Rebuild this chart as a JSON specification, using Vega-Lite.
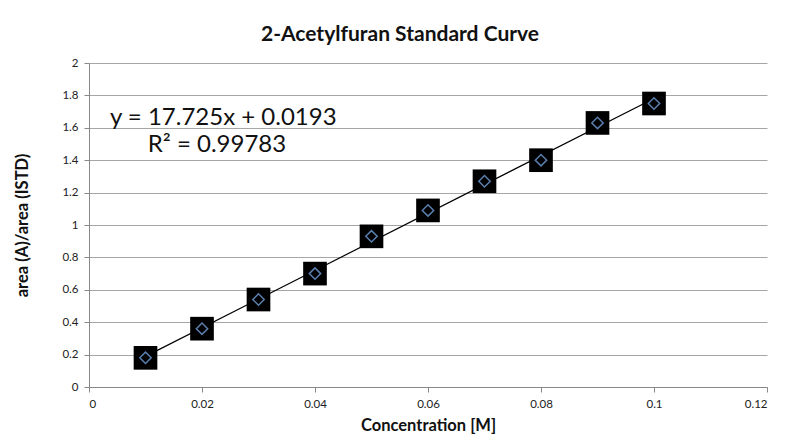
{
  "$schema": "https://vega.github.io/schema/vega-lite/v6.json",
  "autosize": "none",
  "width": 678,
  "height": 324,
  "padding": {"left": 89, "top": 63, "right": 25, "bottom": 57},
  "background": "white",
  "title": {
    "text": "2-Acetylfuran Standard Curve",
    "font": "Lato",
    "fontSize": 21,
    "fontWeight": "bold",
    "color": "#111111",
    "anchor": "middle",
    "dx": -28,
    "offset": 12
  },
  "config": {
    "view": {"stroke": null},
    "font": "Lato"
  },
  "datasets": {
    "points": [
      {"conc": 0.01, "ratio": 0.18},
      {"conc": 0.02, "ratio": 0.36},
      {"conc": 0.03, "ratio": 0.54},
      {"conc": 0.04, "ratio": 0.70},
      {"conc": 0.05, "ratio": 0.93},
      {"conc": 0.06, "ratio": 1.09},
      {"conc": 0.07, "ratio": 1.27},
      {"conc": 0.08, "ratio": 1.40},
      {"conc": 0.09, "ratio": 1.63},
      {"conc": 0.10, "ratio": 1.75}
    ],
    "labels": [
      {"conc": 0.0037, "ratio": 1.66, "label": "y = 17.725x + 0.0193"},
      {"conc": 0.0104, "ratio": 1.495, "label": "R² = 0.99783"}
    ]
  },
  "encoding": {
    "x": {
      "field": "conc",
      "type": "quantitative",
      "scale": {"domain": [0, 0.12], "nice": false, "zero": true},
      "axis": {
        "title": "Concentration [M]",
        "values": [0, 0.02, 0.04, 0.06, 0.08, 0.1, 0.12],
        "format": ".2~f",
        "grid": false,
        "domainColor": "#888888",
        "tickColor": "#888888",
        "tickSize": 5,
        "labelFontSize": 11.5,
        "labelColor": "#222222",
        "labelPadding": 6,
        "titleFontSize": 16.5,
        "titleFontWeight": "bold",
        "titleColor": "#111111",
        "titlePadding": 8
      }
    },
    "y": {
      "field": "ratio",
      "type": "quantitative",
      "scale": {"domain": [0, 2], "nice": false},
      "axis": {
        "title": "area (A)/area (ISTD)",
        "values": [0, 0.2, 0.4, 0.6, 0.8, 1, 1.2, 1.4, 1.6, 1.8, 2],
        "format": ".1~f",
        "grid": true,
        "gridColor": "#a6a6a6",
        "gridWidth": 1.2,
        "domainColor": "#888888",
        "tickColor": "#888888",
        "tickSize": 5,
        "labelFontSize": 11.5,
        "labelColor": "#222222",
        "labelPadding": 6,
        "titleFontSize": 16.5,
        "titleFontWeight": "bold",
        "titleColor": "#111111",
        "titlePadding": 31
      }
    }
  },
  "layer": [
    {
      "data": {"name": "points"},
      "transform": [{"regression": "ratio", "on": "conc", "method": "linear"}],
      "mark": {"type": "line", "color": "black", "strokeWidth": 1.2},
      "encoding": {}
    },
    {
      "data": {"name": "points"},
      "mark": {"type": "point", "shape": "square", "filled": true, "color": "black", "size": 560, "opacity": 1}
    },
    {
      "data": {"name": "points"},
      "mark": {"type": "point", "shape": "diamond", "filled": false, "stroke": "#5b7fae", "strokeWidth": 1.5, "size": 130, "opacity": 1}
    },
    {
      "data": {"name": "labels"},
      "mark": {"type": "text", "align": "left", "baseline": "middle", "fontSize": 24, "font": "Lato", "color": "#111111"},
      "encoding": {"text": {"field": "label"}}
    }
  ]
}
